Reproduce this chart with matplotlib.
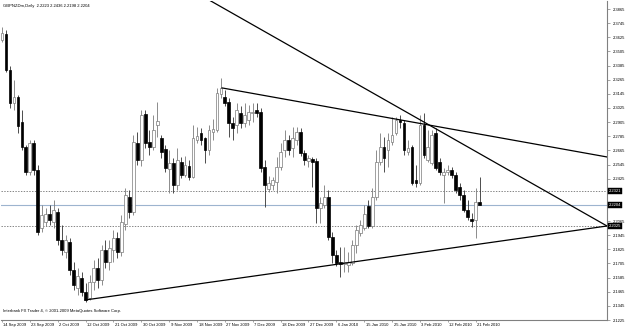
import matplotlib
matplotlib.use("Agg")
import matplotlib.pyplot as plt
import matplotlib.transforms as mtransforms
import numpy as np

plt.rcParams['font.family'] = ['Liberation Sans', 'DejaVu Sans']

# GBPNZDm daily bars, 14 Sep 2009 .. 22 Feb 2010
opens = [2.3602, 2.3653, 2.3348, 2.3067, 2.3118, 2.2906, 2.2694, 2.2482, 2.2728, 2.2499,
         2.2006, 2.2057, 2.2125, 2.2057, 2.2142, 2.1904, 2.1802, 2.1887, 2.1650, 2.1497,
         2.1582, 2.1463, 2.1412, 2.1548, 2.1666, 2.1565, 2.1819, 2.1717, 2.1819, 2.1921,
         2.1802, 2.2040, 2.2269, 2.2142, 2.2728, 2.2583, 2.2974, 2.2736, 2.2694, 2.2881,
         2.2770, 2.2677, 2.2507, 2.2558, 2.2371, 2.2566, 2.2456, 2.2532, 2.2439, 2.2753,
         2.2813, 2.2770, 2.2668, 2.2821, 2.2838, 2.3144, 2.3118, 2.3076, 2.2898, 2.2881,
         2.2982, 2.2898, 2.2923, 2.2982, 2.3008, 2.2991, 2.2524, 2.2337, 2.2371, 2.2397,
         2.2524, 2.2668, 2.2753, 2.2685, 2.2753, 2.2821, 2.2643, 2.2575, 2.2592, 2.2575,
         2.2176, 2.2201, 2.2269, 2.1930, 2.1777, 2.1717, 2.1700, 2.1692, 2.1709, 2.1862,
         2.1964, 2.2006, 2.2193, 2.2023, 2.2269, 2.2566, 2.2694, 2.2668, 2.2736, 2.2813,
         2.2923, 2.2898, 2.2651, 2.2694, 2.2414, 2.2388, 2.2881, 2.2583, 2.2558, 2.2813,
         2.2566, 2.2456, 2.2482, 2.2499, 2.2456, 2.2354, 2.2286, 2.2159, 2.2082, 2.2074,
         2.2223]
highs = [2.3713, 2.3687, 2.3381, 2.3263, 2.3135, 2.3008, 2.2711, 2.2753, 2.2753, 2.2541,
         2.2201, 2.2176, 2.2201, 2.2244, 2.2176, 2.2032, 2.1947, 2.1921, 2.1717, 2.1666,
         2.1633, 2.1539, 2.1607, 2.1734, 2.1751, 2.1862, 2.1904, 2.1904, 2.1989, 2.1972,
         2.2116, 2.2346, 2.2329, 2.2796, 2.2821, 2.3008, 2.3008, 2.2838, 2.2965, 2.3076,
         2.2796, 2.2711, 2.2668, 2.2600, 2.2685, 2.2609, 2.2617, 2.2583, 2.2881, 2.2864,
         2.2855, 2.2779, 2.2881, 2.2931, 2.3195, 2.3280, 2.3178, 2.3110, 2.2948, 2.3067,
         2.3042, 2.3067, 2.3050, 2.3067, 2.3067, 2.3025, 2.2583, 2.2448, 2.2439, 2.2609,
         2.2728, 2.2838, 2.2796, 2.2864, 2.2864, 2.2855, 2.2668, 2.2626, 2.2609, 2.2600,
         2.2269, 2.2371, 2.2329, 2.1972, 2.1819, 2.1845, 2.1845, 2.1802, 2.1904, 2.2032,
         2.2074, 2.2201, 2.2244, 2.2346, 2.2668, 2.2813, 2.2779, 2.2813, 2.2948, 2.2948,
         2.2965, 2.2923, 2.2753, 2.2711, 2.2541, 2.2965, 2.2982, 2.2838, 2.2838, 2.2855,
         2.2600, 2.2515, 2.2541, 2.2524, 2.2482, 2.2388, 2.2329, 2.2244, 2.2133, 2.2346,
         2.2436]
lows = [2.3585, 2.3331, 2.3025, 2.3008, 2.2813, 2.2668, 2.2456, 2.2456, 2.2456, 2.1947,
        2.1972, 2.2023, 2.2032, 2.2006, 2.1862, 2.1777, 2.1751, 2.1607, 2.1480, 2.1437,
        2.1429, 2.1378, 2.1395, 2.1480, 2.1497, 2.1522, 2.1666, 2.1650, 2.1717, 2.1751,
        2.1768, 2.1989, 2.2091, 2.2116, 2.2541, 2.2532, 2.2685, 2.2626, 2.2668, 2.2779,
        2.2600, 2.2482, 2.2303, 2.2303, 2.2329, 2.2431, 2.2439, 2.2414, 2.2431, 2.2728,
        2.2711, 2.2558, 2.2626, 2.2753, 2.2821, 2.3110, 2.3042, 2.2779, 2.2753, 2.2813,
        2.2855, 2.2864, 2.2881, 2.2906, 2.2948, 2.2482, 2.2184, 2.2312, 2.2329, 2.2303,
        2.2499, 2.2609, 2.2626, 2.2609, 2.2711, 2.2617, 2.2541, 2.2524, 2.2354, 2.2049,
        2.2049, 2.2176, 2.1904, 2.1709, 2.1683, 2.1590, 2.1633, 2.1633, 2.1692, 2.1794,
        2.1938, 2.1989, 2.2006, 2.2006, 2.2244, 2.2541, 2.2482, 2.2524, 2.2711, 2.2796,
        2.2855, 2.2626, 2.2626, 2.2371, 2.2354, 2.2371, 2.2600, 2.2566, 2.2541, 2.2499,
        2.2456, 2.2218, 2.2456, 2.2431, 2.2303, 2.2244, 2.2142, 2.2074, 2.2015, 2.1921,
        2.2198]
closes = [2.3662, 2.3348, 2.3067, 2.3118, 2.2872, 2.2694, 2.2482, 2.2728, 2.2499, 2.1972,
          2.2116, 2.2125, 2.2074, 2.2159, 2.1904, 2.1819, 2.1904, 2.1650, 2.1522, 2.1599,
          2.1463, 2.1395, 2.1548, 2.1666, 2.1565, 2.1819, 2.1717, 2.1836, 2.1921, 2.1802,
          2.2057, 2.2286, 2.2142, 2.2736, 2.2583, 2.2965, 2.2728, 2.2694, 2.2838, 2.2915,
          2.2651, 2.2515, 2.2558, 2.2371, 2.2583, 2.2456, 2.2541, 2.2439, 2.2770, 2.2787,
          2.2753, 2.2668, 2.2838, 2.2847, 2.3152, 2.3195, 2.3067, 2.2898, 2.2855, 2.3008,
          2.2898, 2.2965, 2.2991, 2.2991, 2.2982, 2.2515, 2.2371, 2.2388, 2.2414, 2.2524,
          2.2651, 2.2753, 2.2668, 2.2770, 2.2821, 2.2643, 2.2583, 2.2600, 2.2566, 2.2176,
          2.2218, 2.2269, 2.1930, 2.1777, 2.1709, 2.1700, 2.1717, 2.1717, 2.1862, 2.1989,
          2.2032, 2.2125, 2.2023, 2.2269, 2.2566, 2.2694, 2.2600, 2.2753, 2.2796, 2.2923,
          2.2906, 2.2668, 2.2685, 2.2388, 2.2388, 2.2881, 2.2626, 2.2694, 2.2796, 2.2515,
          2.2482, 2.2482, 2.2499, 2.2456, 2.2329, 2.2286, 2.2159, 2.2099, 2.2066, 2.2223,
          2.2204]

date_idx = [0, 7, 14, 21, 28, 35, 42, 49, 56, 63, 70, 77, 84, 91, 98, 105, 112, 119]
date_labels = ["14 Sep 2009", "23 Sep 2009", "2 Oct 2009", "12 Oct 2009", "21 Oct 2009",
               "30 Oct 2009", "9 Nov 2009", "18 Nov 2009", "27 Nov 2009", "7 Dec 2009",
               "18 Dec 2009", "27 Dec 2009", "6 Jan 2010", "15 Jan 2010", "25 Jan 2010",
               "3 Feb 2010", "12 Feb 2010", "21 Feb 2010"]
# 2.2305 and 2.2185 sit under the price boxes and are not shown
price_ticks = [2.1225, 2.1345, 2.1465, 2.1585, 2.1705, 2.1825, 2.1945, 2.2065,
               2.2425, 2.2545, 2.2665, 2.2785, 2.2905, 2.3025, 2.3145, 2.3265,
               2.3385, 2.3505, 2.3625, 2.3745, 2.3865]

# trend lines: (bar index, price) anchors
trend_down_steep = [(52.0, 2.3942), (152.0, 2.2023)]
trend_down_flat = [(55.3, 2.3195), (152.0, 2.2609)]
trend_up = [(20.9, 2.1395), (152.0, 2.2023)]
hlines_dashed = [2.2321, 2.2025]
bid = 2.2204

title = "GBPNZDm,Daily  2.2223 2.2436 2.2198 2.2204"
copyright_txt = "Interbank FX Trader 4, \u00a9 2001-2009 MetaQuotes Software Corp."

fs = 3.0
fig = plt.figure(figsize=(6.25, 3.29), dpi=100)
ax = fig.add_axes([1 / 625, 9 / 329, 606 / 625, 319 / 329])

o = np.array(opens)
h = np.array(highs)
l = np.array(lows)
c = np.array(closes)
x = np.arange(len(o))
up = c >= o

ax.vlines(x[up], l[up], h[up], color="#7a7a7a", lw=0.6, zorder=2)
ax.vlines(x[~up], l[~up], h[~up], color="#303030", lw=0.6, zorder=2)
ax.bar(x[up], c[up] - o[up], bottom=o[up], width=0.7, color="white",
       edgecolor="#7a7a7a", linewidth=0.5, zorder=3)
ax.bar(x[~up], o[~up] - c[~up], bottom=c[~up], width=0.7, color="black",
       edgecolor="black", linewidth=0.5, zorder=3)

for line in (trend_down_steep, trend_down_flat, trend_up):
    ax.plot([line[0][0], line[1][0]], [line[0][1], line[1][1]], color="black", lw=0.9, zorder=4)

for p in hlines_dashed:
    ax.axhline(p, color="#555555", lw=0.5, ls=(0, (2, 2)), zorder=1)
ax.axhline(bid, color="#9db4cf", lw=0.8, zorder=1)

ax.set_xlim(-0.25, 152.0)
ax.set_ylim(2.1225, 2.3933)

for s in ("top", "left"):
    ax.spines[s].set_visible(False)
for s in ("right", "bottom"):
    ax.spines[s].set_color("#808080")
    ax.spines[s].set_linewidth(0.8)

ax.yaxis.tick_right()
ax.set_yticks(price_ticks)
ax.set_yticklabels([f"{p:.4f}" for p in price_ticks])
ax.tick_params(axis="y", length=2, width=0.5, color="#808080", labelsize=fs, pad=2)

ax.set_xticks(date_idx)
ax.set_xticklabels(date_labels, ha="left")
ax.tick_params(axis="x", length=1.5, width=0.5, color="#808080", labelsize=fs, pad=0.5)
offset = mtransforms.ScaledTranslation(1.5 / 100, 0, fig.dpi_scale_trans)
for lab in ax.get_xticklabels():
    lab.set_transform(lab.get_transform() + offset)

# price boxes on the axis
trans = mtransforms.blended_transform_factory(ax.transAxes, ax.transData)
for p in hlines_dashed + [bid]:
    ax.text(1.003, p, f"{p:.4f}", transform=trans, fontsize=fs, color="white",
            va="center", ha="left", zorder=6, clip_on=False,
            bbox=dict(boxstyle="square,pad=0.25", fc="black", ec="black", lw=0.3))

fig.text(3 / 625, 1 - 6 / 329, title, fontsize=fs, va="center", ha="left")
fig.text(3 / 625, 1 - 311 / 329, copyright_txt, fontsize=fs, va="center", ha="left")

fig.savefig("out.png", dpi=100, facecolor="white")
